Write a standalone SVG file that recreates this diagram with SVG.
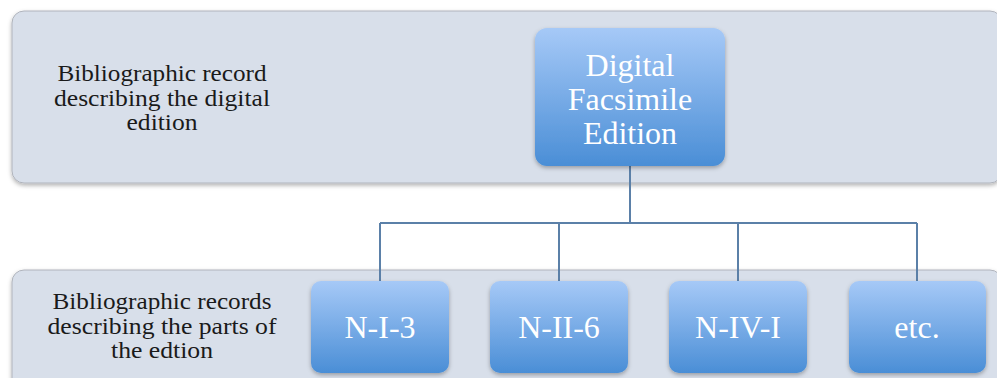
<svg xmlns="http://www.w3.org/2000/svg" width="997" height="378" viewBox="0 0 997 378">
<defs>
<linearGradient id="ng" x1="0" y1="0" x2="0" y2="1">
<stop offset="0" stop-color="#a6c9f7"/>
<stop offset="1" stop-color="#4a8ed6"/>
</linearGradient>
<filter id="sh" x="-10%" y="-10%" width="120%" height="130%">
<feDropShadow dx="0" dy="2" stdDeviation="2" flood-color="#000" flood-opacity="0.3"/>
</filter>
</defs>
<style>
.band{fill:#d8dfea;stroke:#b0b4bc;stroke-width:1;filter:url(#sh)}
.node{fill:url(#ng);filter:url(#sh)}
.lbl{font-family:"Liberation Serif","DejaVu Serif",serif;font-size:24px;fill:#1a1a1a;text-anchor:middle}
.nt{font-family:"Liberation Serif","DejaVu Serif",serif;font-size:32px;fill:#ffffff;text-anchor:middle}
.conn{fill:none;stroke:#5b80a8;stroke-width:2}
</style>
<g id="band-top">
<rect class="band" x="12" y="11" width="990" height="172" rx="12"/>
<text class="lbl" x="162" y="81" textLength="209" lengthAdjust="spacingAndGlyphs">Bibliographic record</text>
<text class="lbl" x="162" y="106" textLength="216" lengthAdjust="spacingAndGlyphs">describing the digital</text>
<text class="lbl" x="162" y="130" textLength="71" lengthAdjust="spacingAndGlyphs">edition</text>
</g>
<g id="band-bottom">
<rect class="band" x="12" y="270" width="990" height="120" rx="12"/>
<text class="lbl" x="162" y="309" textLength="219" lengthAdjust="spacingAndGlyphs">Bibliographic records</text>
<text class="lbl" x="162" y="334" textLength="229" lengthAdjust="spacingAndGlyphs">describing the parts of</text>
<text class="lbl" x="162" y="358" textLength="102" lengthAdjust="spacingAndGlyphs">the edtion</text>
</g>
<g id="connectors">
<path class="conn" d="M630 166V223M380 223H917M380 223V281M559 223V281M738 223V281M917 223V281"/>
</g>
<g id="node-digital">
<rect class="node" x="535" y="28" width="190" height="138" rx="12"/>
<text class="nt" x="630" y="76">Digital</text>
<text class="nt" x="630" y="110">Facsimile</text>
<text class="nt" x="630" y="144">Edition</text>
</g>
<g id="node-n-i-3">
<rect class="node" x="311" y="281" width="138" height="92" rx="10"/>
<text class="nt" x="380" y="338">N-I-3</text>
</g>
<g id="node-n-ii-6">
<rect class="node" x="490" y="281" width="138" height="92" rx="10"/>
<text class="nt" x="559" y="338">N-II-6</text>
</g>
<g id="node-n-iv-i">
<rect class="node" x="669" y="281" width="138" height="92" rx="10"/>
<text class="nt" x="738" y="338">N-IV-I</text>
</g>
<g id="node-etc">
<rect class="node" x="849" y="281" width="137" height="92" rx="10"/>
<text class="nt" x="917" y="338">etc.</text>
</g>
</svg>
